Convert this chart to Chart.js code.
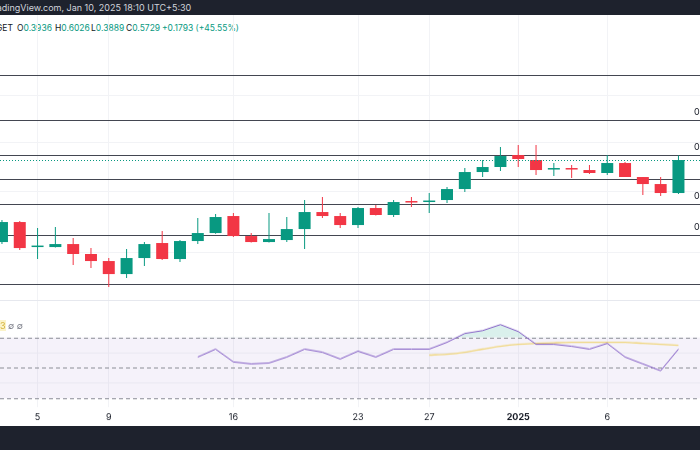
<!DOCTYPE html>
<html>
<head>
<meta charset="utf-8">
<script src="https://cdn.jsdelivr.net/npm/chart.js@4.4.1/dist/chart.umd.min.js"></script>
<style>
  body { margin: 0; width: 700px; height: 450px; overflow: hidden; background: #fff; position: relative; font-family: Inter, "Noto Sans", sans-serif; }
  .bar { position: absolute; left: 0; width: 700px; background: #1e222d; }
  .top { top: 0; height: 15px; color: #d1d4dc; font-size: 9px; line-height: 16px; white-space: nowrap; overflow: hidden; text-indent: -12px; }
  .bottom { top: 426px; height: 24px; }
  .info { position: absolute; top: 22px; left: 0; width: 300px; height: 12px; font-size: 8.5px; line-height: 12px; color: #131722; white-space: nowrap; overflow: hidden; }
  .info span { position: absolute; top: 0; }
  .info b { font-weight: normal; color: #089981; }
  .rsiLegend { position: absolute; top: 320px; left: 0; font-size: 9px; line-height: 12px; color: #787b86; }
  .rsiLegend span { color: #d4b23a; background: #fbf3c9; }
  #main { position: absolute; top: 15px; left: 0; }
  #rsi { position: absolute; top: 300px; left: 0; border-top: 1px solid #e6e8ee; }
</style>
</head>
<body>
<div class="bar top">TradingView.com, Jan 10, 2025 18:10 UTC+5:30</div>
<div class="info">
  <span style="left:-4px">GET</span>
  <span style="left:17px">O<b>0.3936</b></span>
  <span style="left:55px">H<b>0.6026</b></span>
  <span style="left:91px">L<b>0.3889</b></span>
  <span style="left:126px">C<b>0.5729</b></span>
  <span style="left:162px"><b>+0.1793 (+45.55%)</b></span>
</div>
<canvas id="main" width="700" height="285"></canvas>
<canvas id="rsi" width="700" height="125"></canvas>
<div class="rsiLegend"><span>3</span> ∅ ∅</div>
<div class="bar bottom"></div>
<script>
var dates = ['Dec 3','Dec 4','Dec 5','Dec 6','Dec 7','Dec 8','Dec 9','Dec 10','Dec 11','Dec 12','Dec 13','Dec 14','Dec 15','Dec 16','Dec 17','Dec 18','Dec 19','Dec 20','Dec 21','Dec 22','Dec 23','Dec 24','Dec 25','Dec 26','Dec 27','Dec 28','Dec 29','Dec 30','Dec 31',
  'Jan 1','Jan 2','Jan 3','Jan 4','Jan 5','Jan 6','Jan 7','Jan 8','Jan 9','Jan 10'];
var opens  = [0.2254,0.2830,0.2129,0.2129,0.2203,0.1967,0.1816,0.1566,0.1879,0.2229,0.1858,0.2280,0.2497,0.3030,0.2413,0.2254,0.2306,0.2613,0.3171,0.3030,0.2735,0.3319,0.3065,0.3553,0.3553,0.3635,0.4119,0.4998,0.5291,
  0.6064,0.5729,0.5142,0.5172,0.5113,0.4942,0.5537,0.4722,0.4360,0.3936];
var highs  = [0.2895,0.2860,0.2643,0.2673,0.2359,0.2105,0.1879,0.2081,0.2254,0.2554,0.2306,0.2962,0.3100,0.3135,0.2497,0.3135,0.2996,0.3635,0.3761,0.3135,0.3357,0.3434,0.3635,0.3761,0.3936,0.4214,0.5231,0.5729,0.6642,
  0.6795,0.6795,0.5537,0.5412,0.5412,0.6064,0.5600,0.4722,0.4722,0.6026];
var lows   = [0.2203,0.2058,0.1858,0.2120,0.1735,0.1677,0.1351,0.1497,0.1715,0.1837,0.1796,0.2203,0.2480,0.2390,0.2240,0.2240,0.2254,0.2081,0.2962,0.2643,0.2643,0.3050,0.2996,0.3357,0.3135,0.3513,0.3981,0.4722,0.5056,
  0.5291,0.4831,0.4776,0.4668,0.4890,0.4831,0.4722,0.3847,0.3804,0.3889];
var closes = [0.2830,0.2105,0.2140,0.2203,0.1967,0.1816,0.1566,0.1879,0.2203,0.1858,0.2280,0.2497,0.2996,0.2413,0.2254,0.2332,0.2613,0.3171,0.3030,0.2735,0.3319,0.3065,0.3553,0.3533,0.3594,0.4119,0.4998,0.5291,0.5996,
  0.5795,0.5113,0.5172,0.5142,0.4942,0.5537,0.4722,0.4360,0.3936,0.5729];

// RSI(14) starts on Dec 14, its moving average on Dec 27
var rsiStart = 'Dec 14';
var rsiValues = [57.1,62.3,53.9,52.6,53.2,57.1,62.3,60.3,55.8,61.0,57.1,62.3,62.3,62.3,66.8,72.6,74.5,78.4,
  73.9,65.5,65.5,64.2,62.3,66.1,57.1,52.6,48.1,62.3];
var rsiMaStart = 'Dec 27';
var rsiMaValues = [58.4,59.0,60.3,62.3,64.2,65.5,66.1,66.5,66.8,66.8,66.8,66.8,66.1,65.5,64.8];

// horizontal levels drawn on the price pane
var levels = [1.507, 0.903, 0.6064, 0.4616, 0.3473, 0.2441, 0.1398];
var levelLabeled = [false, true, true, false, true, true, false];
var gridPrices = [1.2, 0.7, 0.4, 0.2];

var tickDates = ['Dec 5','Dec 9','Dec 16','Dec 23','Dec 27','Jan 1','Jan 6'];
var tickLabels = ['5','9','16','23','27','2025','6'];

var green = '#089981', red = '#f23645';
var xMin = -0.11, xMax = 39.21;
var tickDays = tickDates.map(function (d) { return dates.indexOf(d); });
var colors = opens.map(function (o, i) { return closes[i] >= o ? green : red; });

var bodies = opens.map(function (o, i) { return { x: i, y: [o, closes[i]] }; });
var wicks = lows.map(function (l, i) { return { x: i, y: [l, highs[i]] }; });

var levelPlugin = {
  id: 'levels',
  beforeDatasetsDraw: function (chart) {
    var c = chart.ctx, y = chart.scales.y, a = chart.chartArea;
    c.save();
    c.strokeStyle = '#434651';
    c.lineWidth = 1.2;
    levels.forEach(function (v) {
      var py = Math.round(y.getPixelForValue(v)) + 0.5;
      c.beginPath(); c.moveTo(a.left, py); c.lineTo(a.right, py); c.stroke();
    });
    c.restore();
  },
  afterDatasetsDraw: function (chart) {
    var c = chart.ctx, y = chart.scales.y, a = chart.chartArea;
    c.save();
    // last price line
    var py = Math.round(y.getPixelForValue(closes[closes.length - 1])) + 0.5;
    c.strokeStyle = green; c.lineWidth = 1; c.setLineDash([1, 2]);
    c.beginPath(); c.moveTo(a.left, py); c.lineTo(a.right, py); c.stroke();
    c.setLineDash([]);
    c.fillStyle = '#131722';
    c.font = '9px Inter, "Noto Sans", sans-serif';
    c.textBaseline = 'middle';
    levels.forEach(function (v, i) {
      if (!levelLabeled[i]) return;
      c.fillText(v.toFixed(4), 694, y.getPixelForValue(v) - 8);
    });
    c.restore();
  }
};

new Chart(document.getElementById('main'), {
  type: 'bar',
  data: {
    datasets: [
      { data: wicks, backgroundColor: colors, maxBarThickness: 1, grouped: false, order: 2 },
      { data: bodies, backgroundColor: colors, maxBarThickness: 12, minBarLength: 1.5, grouped: false, order: 1 }
    ]
  },
  options: {
    responsive: false,
    animation: false,
    layout: { padding: 0 },
    plugins: { legend: { display: false }, tooltip: { enabled: false } },
    scales: {
      x: {
        type: 'linear', min: xMin, max: xMax, bounds: 'data', offset: false,
        ticks: { display: false },
        grid: { color: '#f2f3f6', drawTicks: false, offset: false },
        border: { display: false },
        afterBuildTicks: function (s) { s.ticks = tickDays.map(function (d) { return { value: d }; }); },
        afterFit: function (s) { s.height = 0; }
      },
      y: {
        type: 'logarithmic', min: 0.1166, max: 2.982, bounds: 'data',
        ticks: { display: false },
        grid: { color: '#f2f3f6', drawTicks: false },
        border: { display: false },
        afterBuildTicks: function (s) { s.ticks = gridPrices.map(function (v) { return { value: v }; }); },
        afterFit: function (s) { s.width = 0; }
      }
    }
  },
  plugins: [levelPlugin]
});

var rsiIdx = dates.indexOf(rsiStart), maIdx = dates.indexOf(rsiMaStart);

var bandPlugin = {
  id: 'band',
  beforeDatasetsDraw: function (chart) {
    var c = chart.ctx, y = chart.scales.y, a = chart.chartArea;
    var y70 = y.getPixelForValue(70), y30 = y.getPixelForValue(30), y50 = y.getPixelForValue(50);
    c.save();
    c.fillStyle = 'rgba(126, 87, 194, 0.08)';
    c.fillRect(a.left, y70, a.right - a.left, y30 - y70);
    c.strokeStyle = '#8a8d96'; c.lineWidth = 1; c.setLineDash([4, 3]);
    [y70, y50, y30].forEach(function (py) {
      py = Math.round(py) + 0.5;
      c.beginPath(); c.moveTo(a.left, py); c.lineTo(a.right, py); c.stroke();
    });
    c.restore();
  }
};

new Chart(document.getElementById('rsi'), {
  type: 'line',
  data: {
    datasets: [
      {
        data: rsiValues.map(function (v, i) { return { x: rsiIdx + i, y: v }; }),
        borderColor: '#7e57c2', borderWidth: 1, pointRadius: 0, tension: 0,
        fill: { target: { value: 70 }, above: 'rgba(8, 153, 129, 0.15)', below: 'rgba(0,0,0,0)' }
      },
      {
        data: rsiMaValues.map(function (v, i) { return { x: maIdx + i, y: v }; }),
        borderColor: '#f0d67c', borderWidth: 1.3, pointRadius: 0, tension: 0.3
      }
    ]
  },
  options: {
    responsive: false,
    animation: false,
    layout: { padding: 0 },
    plugins: { legend: { display: false }, tooltip: { enabled: false } },
    scales: {
      x: {
        type: 'linear', min: xMin, max: xMax, bounds: 'data', offset: false,
        grid: { color: '#f2f3f6', drawTicks: false },
        border: { display: false },
        afterBuildTicks: function (s) { s.ticks = tickDays.map(function (d) { return { value: d }; }); },
        afterFit: function (s) { s.height = 18; },
        ticks: {
          padding: 5, color: '#131722', maxRotation: 0, autoSkip: false,
          font: function (ctx) {
            return { family: 'Inter, "Noto Sans", sans-serif', size: 9, weight: ctx.tick && ctx.tick.value === dates.indexOf('Jan 1') ? 'bold' : 'normal' };
          },
          callback: function (v) { return tickLabels[tickDays.indexOf(v)]; }
        }
      },
      y: {
        min: 24.2, max: 93.9, bounds: 'data',
        ticks: { display: false },
        grid: { color: '#f2f3f6', drawTicks: false },
        border: { display: false },
        afterBuildTicks: function (s) { s.ticks = [{ value: 40 }, { value: 60 }]; },
        afterFit: function (s) { s.width = 0; }
      }
    }
  },
  plugins: [bandPlugin]
});
</script>
</body>
</html>
